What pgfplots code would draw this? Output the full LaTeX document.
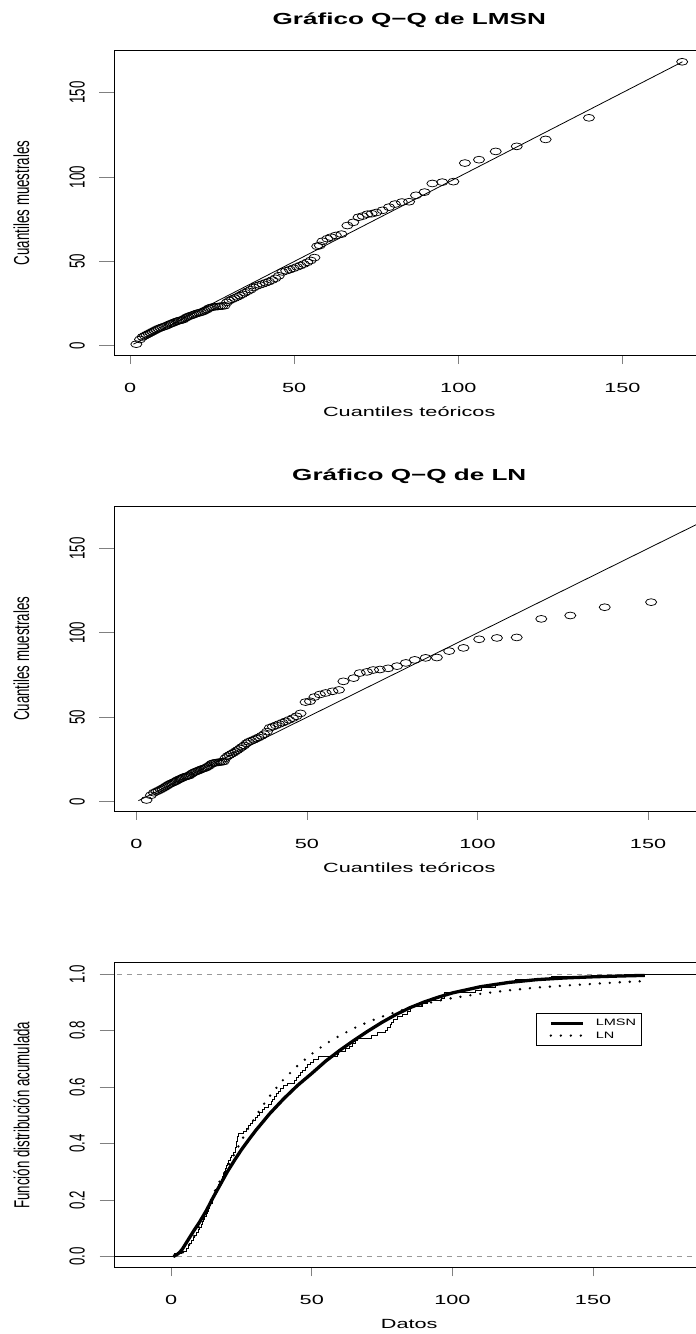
\documentclass[border=0pt]{standalone}
\usepackage{pgfplots}
\pgfplotsset{compat=1.18}
\usepackage{pgfplotstable}
\usepackage{graphicx}
\usepackage{fontspec}
\setmainfont{Liberation Sans}

% wide lettering, as in the device the figure was drawn on
\newcommand{\sx}[1]{\scalebox{1.63}[1]{#1}}
\newcommand{\sy}[1]{\scalebox{1}[1.63]{#1}}
\newcommand{\slg}[1]{\scalebox{1.56}[1]{#1}}

% sorted sample, LMSN and LN theoretical quantiles
\pgfplotstableread{
i muestra lmsn ln
1 1.0 1.9 2.99
2 3.8 3.02 4.28
3 5.3 3.80 5.14
4 6.0 4.44 5.87
5 6.6 5.03 6.49
6 7.2 5.62 7.07
7 7.8 6.21 7.61
8 8.4 6.80 8.13
9 9.0 7.39 8.62
10 9.6 7.98 9.10
11 10.2 8.61 9.56
12 10.7 9.23 10.01
13 11.1 9.86 10.48
14 11.5 10.44 10.91
15 11.9 11.00 11.35
16 12.4 11.56 11.78
17 12.9 12.13 12.19
18 13.3 12.66 12.63
19 13.7 13.15 13.05
20 14.1 13.65 13.48
21 14.5 14.14 13.90
22 14.8 14.63 14.33
23 15.1 15.13 14.75
24 15.3 15.65 15.20
25 15.6 16.17 15.61
26 16.3 16.70 16.05
27 16.9 17.22 16.48
28 17.4 17.74 16.91
29 17.8 18.27 17.36
30 18.1 18.79 17.80
31 18.5 19.32 18.25
32 18.9 19.84 18.69
33 19.3 20.41 19.16
34 19.6 21.00 19.61
35 19.9 21.59 20.09
36 20.3 22.18 20.55
37 20.9 22.78 21.01
38 21.5 23.41 21.50
39 22.3 24.03 21.98
40 22.8 24.64 22.47
41 23.0 25.30 22.99
42 23.2 25.99 23.50
43 23.3 26.68 24.00
44 23.5 27.38 24.51
45 23.6 28.09 25.08
46 23.8 28.80 25.61
47 25.8 29.52 26.13
48 26.9 30.26 26.71
49 27.6 31.04 27.28
50 28.3 31.83 27.86
51 29.0 32.62 28.47
52 29.8 33.40 29.08
53 30.6 34.19 29.67
54 31.5 34.98 30.33
55 32.4 35.86 30.94
56 33.3 36.75 31.60
57 34.6 37.64 32.30
58 35.5 38.54 32.98
59 36.1 39.42 33.68
60 36.7 40.34 34.43
61 37.4 41.33 35.12
62 38.1 42.31 35.87
63 39.0 43.29 36.70
64 40.0 44.28 37.48
65 41.5 45.30 38.28
66 43.8 46.42 39.13
67 44.5 47.55 40.04
68 45.2 48.67 40.93
69 46.0 49.79 41.84
70 46.8 50.86 42.82
71 47.6 51.90 43.77
72 48.5 52.94 44.79
73 49.5 54.00 45.88
74 50.6 55.04 46.94
75 52.3 56.17 48.13
76 59.0 57.0 49.6
77 59.5 57.8 50.9
78 62.0 58.6 52.2
79 63.5 60.1 53.8
80 64.4 61.2 55.5
81 65.4 62.7 57.5
82 66.2 64.4 59.4
83 71.3 66.2 60.7
84 73.2 68.0 63.7
85 76.2 69.6 65.5
86 76.9 70.9 67.6
87 78.0 72.3 69.4
88 78.3 73.6 71.4
89 79.0 75.0 73.8
90 80.3 76.9 76.4
91 82.2 78.9 79.0
92 84.0 80.7 81.6
93 85.2 82.8 84.8
94 85.4 85.0 88.1
95 89.2 87.1 91.7
96 91.1 89.7 95.9
97 96.2 92.1 100.5
98 97.0 95.1 105.7
99 97.3 98.5 111.5
100 108.3 102.0 118.7
101 110.3 106.3 127.2
102 115.2 111.4 137.3
103 118.2 117.8 150.9
104 122.3 126.6 nan
105 135.1 139.8 nan
106 168.3 168.2 nan
}\datos

\pgfplotsset{
  rbase/.style={
    scale only axis, width=589.5bp, height=305bp,
    axis line style={line width=0.9bp},
    tick align=outside, tick pos=left,
    xtick style={line width=0.8bp, /pgfplots/major tick length=8.7bp},
    ytick style={line width=0.8bp, /pgfplots/major tick length=15bp},
    tick label style={font=\fontsize{13.3bp}{16bp}\selectfont},
    label style={font=\fontsize{13.3bp}{16bp}\selectfont},
    xticklabel style={anchor=center, yshift=-28bp},
    yticklabel style={anchor=center, xshift=-33bp, rotate=90},
    xlabel style={at={(axis description cs:0.5,-0.1836)}, anchor=center},
    ylabel style={at={(axis description cs:-0.1578,0.5)}, anchor=center},
    title style={at={(axis description cs:0.5,1.0662)}, anchor=base,
      font=\fontsize{16bp}{19bp}\selectfont\bfseries},
  },
  qq/.style={only marks, mark=o, mark size=3.4bp,
    mark options={xscale=1.63, line width=0.75bp, black}},
}

\begin{document}
\begin{tikzpicture}

% Q-Q plot, LMSN
\begin{axis}[rbase, at={(114.5bp,978.5bp)}, anchor=south west,
  xmin=-4.75, xmax=174.85, ymin=-5.69, ymax=174.99,
  xtick={0,50,100,150}, xticklabels={\sx{0},\sx{50},\sx{100},\sx{150}},
  ytick={0,50,100,150}, yticklabels={\sy{0},\sy{50},\sy{100},\sy{150}},
  title={\sx{Gráfico Q−Q de LMSN}},
  xlabel={\sx{Cuantiles teóricos}}, ylabel={\sy{Cuantiles muestrales}}]
\addplot[qq] table[x=lmsn, y=muestra] {\datos};
\addplot[black, line width=0.8bp] coordinates {(1,1) (168.3,168.3)};
\end{axis}

% Q-Q plot, LN
\begin{axis}[rbase, at={(114.5bp,522.7bp)}, anchor=south west,
  xmin=-6.4, xmax=166.4, ymin=-5.69, ymax=174.99,
  xtick={0,50,100,150}, xticklabels={\sx{0},\sx{50},\sx{100},\sx{150}},
  ytick={0,50,100,150}, yticklabels={\sy{0},\sy{50},\sy{100},\sy{150}},
  title={\sx{Gráfico Q−Q de LN}},
  xlabel={\sx{Cuantiles teóricos}}, ylabel={\sy{Cuantiles muestrales}}]
\addplot[qq] table[x=ln, y=muestra] {\datos};
\addplot[black, line width=0.8bp] coordinates {(0.6,0.6) (174,174)};
\end{axis}

% empirical and fitted distribution functions
\begin{axis}[rbase, at={(114.5bp,66.3bp)}, anchor=south west,
  xmin=-20.14, xmax=189.44, ymin=-0.04, ymax=1.04,
  xtick={0,50,100,150}, xticklabels={\sx{0},\sx{50},\sx{100},\sx{150}},
  ytick={0,0.2,0.4,0.6,0.8,1},
  yticklabels={\sy{0.0},\sy{0.2},\sy{0.4},\sy{0.6},\sy{0.8},\sy{1.0}},
  xlabel={\sx{Datos}}, ylabel={\sy{Función distribución acumulada}},
  legend image code/.code={\path (0bp,0bp); \draw[#1] (8bp,0bp) -- (39.7bp,0bp);},
  legend style={at={(axis cs:129.8,0.862)}, anchor=north west,
    draw=black, line width=0.8bp, fill=white,
    font=\fontsize{9.3bp}{10bp}\selectfont,
    inner xsep=4.5bp, inner ysep=5.5bp, row sep=3bp,
    nodes={inner sep=0.6bp}, cells={anchor=west},
    /tikz/every odd column/.append style={column sep=11bp}}]
\addplot[black!40, line width=0.8bp, dash pattern=on 5bp off 5bp, forget plot]
  coordinates {(-30,0) (200,0)};
\addplot[black!40, line width=0.8bp, dash pattern=on 5bp off 5bp, forget plot]
  coordinates {(-30,1) (200,1)};
\addplot[black, line width=0.8bp, forget plot]
  coordinates {(-30,0) (1.0,0) (1.0,0.00943)};
\addplot[const plot, black, line width=0.8bp, forget plot]
  table[x=muestra, y expr=\thisrow{i}/106] {\datos};
\addplot[black, line width=0.8bp, forget plot]
  coordinates {(168.3,1) (200,1)};
\addplot[black, line width=3.3bp, line join=round] coordinates {
  (0.8,0) (2,0.006) (3,0.014) (4,0.026) (5,0.042) (6,0.058) (8,0.090)
  (10,0.120) (12.5,0.162) (15,0.210) (17.5,0.255) (20,0.300) (22.5,0.340)
  (25,0.378) (27.5,0.412) (30,0.445) (35,0.505) (40,0.558) (45,0.606)
  (50,0.648) (55,0.692) (60,0.730) (65,0.765) (70,0.798) (75,0.829)
  (80,0.857) (85,0.881) (90,0.901) (95,0.918) (100,0.933) (110,0.955)
  (120,0.970) (130,0.980) (140,0.986) (150,0.990) (160,0.993) (168.3,0.995)};
\addlegendentry{\slg{LMSN}}
\addplot[black, line width=2.6bp, line cap=round, dash pattern=on 0bp off 10bp]
  coordinates {
  (1.0,0.0001) (2.5,0.003) (4,0.012) (5,0.022) (6,0.035) (7,0.051) (8,0.068)
  (9,0.088) (10,0.108) (12,0.151) (14,0.195) (16,0.243) (18,0.280) (20,0.314)
  (22.5,0.362) (25,0.410) (27.5,0.455) (30,0.495) (32.5,0.533) (35,0.567)
  (37.5,0.598) (40,0.627) (45,0.676) (50,0.717) (55,0.753) (60,0.782)
  (65,0.808) (70,0.830) (75,0.849) (80,0.866) (85,0.881) (90,0.894)
  (95,0.905) (100,0.915) (110,0.930) (120,0.942) (130,0.952) (140,0.959)
  (150,0.965) (160,0.971) (168.3,0.975)};
\addlegendentry{\slg{LN}}
\end{axis}

\pgfresetboundingbox
\path[use as bounding box] (0bp,0bp) rectangle (696bp,1334bp);
\end{tikzpicture}
\end{document}
